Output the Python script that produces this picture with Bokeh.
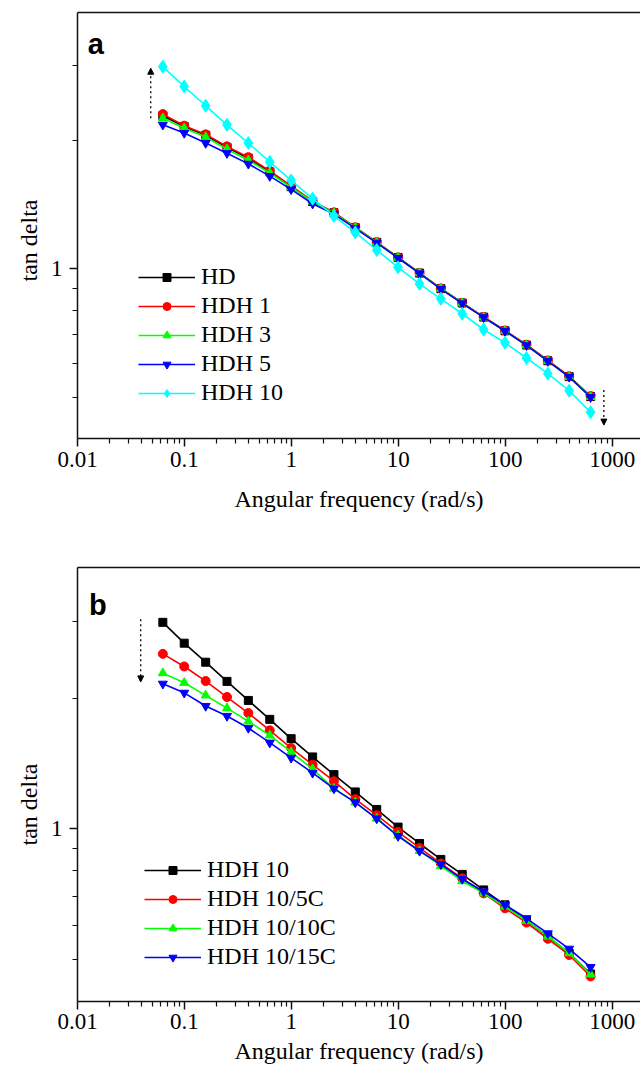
from bokeh.plotting import figure
from bokeh.layouts import column
from bokeh.models import (FixedTicker, CustomJSTickFormatter, LogAxis, Legend, LegendItem,
                          Label, Arrow, NormalHead, Range1d, Title)
from bokeh.embed import file_html
from bokeh.resources import INLINE

# ---------------- data ----------------
freq = [0.0628, 0.0995, 0.158, 0.250, 0.396, 0.628, 0.995, 1.58, 2.50, 3.96, 6.28,
        9.95, 15.8, 25.0, 39.6, 62.8, 99.5, 158, 250, 396, 628]

# panel a
names_a = ["HD", "HDH 1", "HDH 3", "HDH 5", "HDH 10"]
hd = [2.29, 2.16, 2.06, 1.93, 1.82, 1.69, 1.56, 1.44, 1.355, 1.25, 1.155,
      1.064, 0.978, 0.899, 0.832, 0.771, 0.716, 0.663, 0.609, 0.559, 0.502]
hdh1 = [2.31, 2.17, 2.07, 1.94, 1.83, 1.70, 1.566, 1.445, 1.358, 1.253, 1.156,
        1.065, 0.979, 0.900, 0.833, 0.772, 0.717, 0.664, 0.610, 0.560, 0.503]
hdh3 = [2.26, 2.14, 2.04, 1.91, 1.80, 1.68, 1.555, 1.44, 1.352, 1.25, 1.154,
        1.063, 0.978, 0.899, 0.831, 0.770, 0.715, 0.662, 0.608, 0.558, 0.501]
hdh5 = [2.18, 2.085, 1.975, 1.87, 1.765, 1.652, 1.538, 1.423, 1.345, 1.245, 1.152,
        1.061, 0.976, 0.897, 0.830, 0.770, 0.715, 0.662, 0.608, 0.558, 0.500]
hdh10 = [2.985, 2.68, 2.416, 2.18, 1.975, 1.784, 1.614, 1.462, 1.332, 1.218, 1.108,
         1.009, 0.923, 0.851, 0.785, 0.721, 0.671, 0.618, 0.568, 0.518, 0.461]

# panel b
names_b = ["HDH 10", "HDH 10/5C", "HDH 10/10C", "HDH 10/15C"]
b_hdh10 = [2.99, 2.677, 2.42, 2.186, 1.976, 1.787, 1.613, 1.464, 1.333, 1.216, 1.108,
           1.009, 0.925, 0.850, 0.785, 0.723, 0.668, 0.614, 0.565, 0.517, 0.463]
b_5c = [2.53, 2.366, 2.19, 2.012, 1.848, 1.686, 1.535, 1.405, 1.287, 1.17, 1.075,
        0.984, 0.904, 0.832, 0.769, 0.710, 0.656, 0.608, 0.558, 0.512, 0.457]
b_10c = [2.284, 2.17, 2.03, 1.897, 1.768, 1.642, 1.503, 1.372, 1.238, 1.15, 1.056,
         0.965, 0.889, 0.821, 0.758, 0.710, 0.662, 0.614, 0.565, 0.517, 0.462]
b_15c = [2.158, 2.057, 1.918, 1.819, 1.707, 1.579, 1.457, 1.345, 1.238, 1.15, 1.056,
         0.962, 0.889, 0.828, 0.766, 0.717, 0.668, 0.622, 0.574, 0.529, 0.480]

x_ticks = [0.01, 0.1, 1, 10, 100, 1000]
y_ticks = [1]
y_minor = [0.5, 0.6, 0.7, 0.8, 0.9, 2, 3]
x_title = "Angular frequency (rad/s)"
y_title = "tan delta"

SERIF = "'Liberation Serif', 'Times New Roman', 'DejaVu Serif', serif"
X_END = 1840


def make_panel(height, top, bottom, letter, letter_pos, series, legend_loc, arrows,
               label_standoff, title_standoff, ytitle_offset):
    p = figure(width=640, height=height, x_axis_type="log", y_axis_type="log",
               x_range=Range1d(0.01, X_END), y_range=Range1d(0.4, 4),
               output_backend="svg", toolbar_location=None,
               min_border_left=77, min_border_right=0,
               min_border_top=top, min_border_bottom=bottom)
    p.outline_line_color = None
    p.grid.visible = False
    p.background_fill_color = "white"
    p.border_fill_color = "white"

    xminor = [m * 10.0 ** e for e in range(-2, 4) for m in range(2, 10) if m * 10.0 ** e < X_END]
    fmt = CustomJSTickFormatter(code="return String(tick)")

    xa = p.xaxis[0]
    xa.ticker = FixedTicker(ticks=x_ticks, minor_ticks=xminor)
    xa.formatter = fmt
    xa.axis_label = x_title
    ya = p.yaxis[0]
    ya.ticker = FixedTicker(ticks=y_ticks, minor_ticks=y_minor)
    ya.formatter = fmt
    for ax in (xa, ya):
        ax.axis_line_width = 1.5
        ax.axis_line_color = "#111111"
        ax.major_tick_in = 0
        ax.major_tick_out = 8
        ax.minor_tick_in = 0
        ax.minor_tick_out = 5
        ax.major_tick_line_width = 1.5
        ax.minor_tick_line_width = 1.2
        ax.major_tick_line_color = "#111111"
        ax.minor_tick_line_color = "#111111"
        ax.major_label_text_font = SERIF
        ax.major_label_text_font_size = "23px"
        ax.major_label_text_color = "black"
        ax.axis_label_text_font = SERIF
        ax.axis_label_text_font_size = "24px"
        ax.axis_label_text_font_style = "normal"
        ax.axis_label_text_color = "black"
    xa.major_label_standoff = label_standoff
    xa.axis_label_standoff = title_standoff
    ya.major_label_standoff = 7

    top_axis = LogAxis(ticker=FixedTicker(ticks=[]), major_tick_out=0, major_tick_in=0,
                       minor_tick_out=0, minor_tick_in=0, major_label_standoff=0,
                       major_label_text_font_size="0px", axis_line_width=1.5,
                       axis_line_color="#111111")
    p.add_layout(top_axis, "above")

    # y title as a side title so it can be placed along the axis like the original
    p.add_layout(Title(text=y_title, align="left", offset=ytitle_offset, standoff=11,
                       text_font=SERIF, text_font_size="24px", text_font_style="normal",
                       text_color="black"), "left")

    items = []
    for name, ys, color, marker, size, lsize in series:
        lr = p.line(freq, ys, line_color=color, line_width=1.6)
        p.scatter(freq, ys, marker=marker, size=size, fill_color=color, line_color=color)
        # legend-only glyph (larger marker, as in the original legend)
        kr = p.scatter([float("nan")], [float("nan")], marker=marker, size=lsize,
                       fill_color=color, line_color=color)
        items.append(LegendItem(label=name, renderers=[lr, kr]))
    leg = Legend(items=items, location=legend_loc, glyph_width=57, glyph_height=20,
                 label_standoff=6, spacing=2, padding=0, margin=0,
                 background_fill_alpha=0, border_line_color=None,
                 label_text_font=SERIF, label_text_font_size="24px", label_height=20,
                 label_text_color="black")
    p.add_layout(leg, "center")

    for xs, ys, xe, ye in arrows:
        p.add_layout(Arrow(end=NormalHead(size=6, fill_color="black", line_color="black", line_width=1),
                           x_start=xs, y_start=ys, x_end=xe, y_end=ye,
                           line_dash="2 3", line_width=1.3, line_color="black"))

    p.add_layout(Label(x=letter_pos[0], y=letter_pos[1], text=letter,
                       text_font="'Liberation Sans', Arial, sans-serif", text_font_style="bold",
                       text_font_size="29px", text_baseline="alphabetic", text_color="black"))
    return p


series_a = [
    (names_a[0], hd, "#000000", "square", 8, 10),
    (names_a[1], hdh1, "#ff0000", "circle", 9, 11),
    (names_a[2], hdh3, "#00ff00", "triangle", 9, 12),
    (names_a[3], hdh5, "#0000ff", "inverted_triangle", 9, 12),
    (names_a[4], hdh10, "#00ffff", "diamond", 13, 15),
]
series_b = [
    (names_b[0], b_hdh10, "#000000", "square", 8, 10),
    (names_b[1], b_5c, "#ff0000", "circle", 9, 11),
    (names_b[2], b_10c, "#00ff00", "triangle", 9, 12),
    (names_b[3], b_15c, "#0000ff", "inverted_triangle", 9, 12),
]

pa = make_panel(540, 12, 102, "a", (0.0125, 3.38), series_a, (61, 32),
                [(0.0484, 2.26, 0.0484, 2.96), (836, 0.52, 836, 0.43)], 5, 16, 157)
pb = make_panel(528, 27, 67, "b", (0.0128, 3.28), series_b, (67, 31),
                [(0.039, 3.04, 0.039, 2.18)], 4, 6, 156)

layout = column(pa, pb, spacing=0)
open("out.html", "w").write(file_html(layout, INLINE))
